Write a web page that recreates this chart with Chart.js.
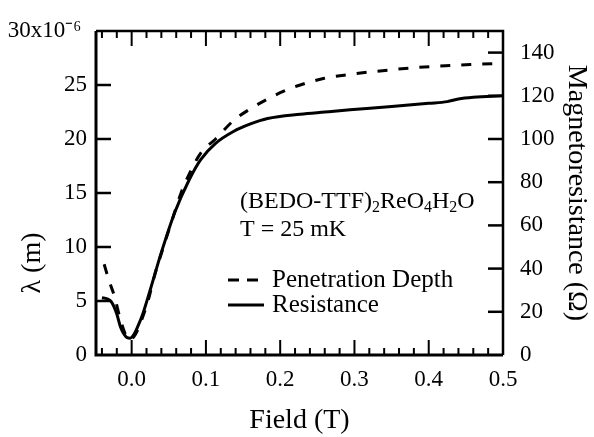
<!DOCTYPE html>
<html><head><meta charset="utf-8">
<script src="https://cdn.jsdelivr.net/npm/chart.js@4/dist/chart.umd.min.js"></script>
<style>html,body{margin:0;padding:0;background:#fff}#wrap{width:594px;height:437px}</style>
</head><body><div id="wrap"><canvas id="c" width="594" height="437"></canvas></div>
<script>
// ---- data ----
const fieldTicks = [0.0, 0.1, 0.2, 0.3, 0.4, 0.5];
const lambdaTicks = [0, 5, 10, 15, 20, 25, 30];
const resTicks = [0, 20, 40, 60, 80, 100, 120, 140];

// Penetration depth (units of 1e-6 m) vs field (T)
const penField = [-0.037, -0.031, -0.023, -0.016, -0.009, -0.004, 0.000, 0.005, 0.012, 0.022, 0.031, 0.040, 0.055, 0.067, 0.080, 0.093, 0.113, 0.137, 0.160, 0.183, 0.204, 0.227, 0.258, 0.290, 0.348, 0.401, 0.459, 0.500];
const penDepth = [8.4, 7.0, 5.4, 3.5, 2.0, 1.4, 1.5, 1.9, 3.0, 5.0, 7.4, 9.4, 12.6, 15.1, 17.1, 18.7, 20.0, 21.7, 22.8, 23.7, 24.4, 25.0, 25.6, 25.95, 26.4, 26.7, 26.9, 27.0];

// Magnetoresistance (Ohm) vs field (T)
const resField = [-0.040, -0.033, -0.027, -0.020, -0.015, -0.010, -0.006, -0.002, 0.003, 0.008, 0.014, 0.024, 0.040, 0.058, 0.078, 0.093, 0.113, 0.137, 0.160, 0.183, 0.227, 0.260, 0.294, 0.350, 0.400, 0.425, 0.440, 0.460, 0.500];
const resistance = [26.5, 26, 24.5, 19, 13, 9.5, 8, 7.8, 9.5, 13, 18, 29, 47.5, 66, 81.5, 90.5, 98, 103.5, 107, 109.5, 111.5, 112.5, 113.5, 115, 116.5, 117.3, 118.5, 119.3, 120];

const SERIF = "'Liberation Serif', 'Times New Roman', serif";
Chart.defaults.color = '#000';
Chart.defaults.font.family = SERIF;

const decor = {
  id: 'decor',
  afterDatasetsDraw(chart) {
    const {ctx, chartArea: a, scales} = chart;
    const x = scales.x, y = scales.y, y1 = scales.y1;
    ctx.save();
    ctx.strokeStyle = '#000';
    ctx.lineCap = 'butt';
    // frame
    ctx.lineWidth = 2.5;
    ctx.beginPath();
    ctx.moveTo(a.left, a.top); ctx.lineTo(a.right, a.top); ctx.lineTo(a.right, a.bottom);
    ctx.stroke();
    ctx.lineWidth = 3;
    ctx.beginPath();
    ctx.moveTo(a.left, a.top); ctx.lineTo(a.left, a.bottom); ctx.lineTo(a.right, a.bottom);
    ctx.stroke();
    // x ticks (top and bottom, inward)
    ctx.lineWidth = 2;
    for (let i = -2; i <= 25; i++) {
      const px = x.getPixelForValue(i * 0.02);
      const len = (i % 5 === 0) ? 15 : 7;
      ctx.beginPath();
      ctx.moveTo(px, a.bottom); ctx.lineTo(px, a.bottom - len);
      ctx.moveTo(px, a.top); ctx.lineTo(px, a.top + len);
      ctx.stroke();
    }
    // left ticks
    ctx.lineWidth = 2.5;
    lambdaTicks.forEach(v => {
      if (v === 0 || v === 30) return;
      const py = y.getPixelForValue(v);
      ctx.beginPath(); ctx.moveTo(a.left, py); ctx.lineTo(a.left + 15, py); ctx.stroke();
    });
    resTicks.forEach(v => {
      if (v === 0) return;
      const py = y1.getPixelForValue(v);
      ctx.beginPath(); ctx.moveTo(a.right, py); ctx.lineTo(a.right - 15, py); ctx.stroke();
    });
    // annotation
    ctx.fillStyle = '#000';
    ctx.textBaseline = 'middle';
    ctx.textAlign = 'left';
    const big = '24px ' + SERIF, small = '16px ' + SERIF;
    let tx = 240; const ty = 202;
    const parts = [['(BEDO-TTF)', 0], ['2', 1], ['ReO', 0], ['4', 1], ['H', 0], ['2', 1], ['O', 0]];
    parts.forEach(([t, sub]) => {
      ctx.font = sub ? small : big;
      ctx.fillText(t, tx, sub ? ty + 6 : ty);
      tx += ctx.measureText(t).width;
    });
    ctx.font = big;
    ctx.fillText('T = 25 mK', 240, 230);
    // legend
    ctx.font = '25px ' + SERIF;
    ctx.fillText('Penetration Depth', 272, 280);
    ctx.fillText('Resistance', 272, 305);
    ctx.lineWidth = 3;
    ctx.setLineDash([11, 8]);
    ctx.beginPath(); ctx.moveTo(228, 280); ctx.lineTo(258, 280); ctx.stroke();
    ctx.setLineDash([]);
    ctx.beginPath(); ctx.moveTo(228, 305); ctx.lineTo(264, 305); ctx.stroke();
    ctx.restore();
  }
};

new Chart(document.getElementById('c'), {
  type: 'line',
  data: {
    datasets: [
      {
        label: 'Penetration Depth',
        data: penField.map((f, i) => ({x: f, y: penDepth[i]})),
        yAxisID: 'y',
        borderColor: '#000', borderWidth: 3, borderDash: [10, 11],
        pointRadius: 0, cubicInterpolationMode: 'monotone', fill: false
      },
      {
        label: 'Resistance',
        data: resField.map((f, i) => ({x: f, y: resistance[i]})),
        yAxisID: 'y1',
        borderColor: '#000', borderWidth: 3,
        pointRadius: 0, cubicInterpolationMode: 'monotone', fill: false
      }
    ]
  },
  options: {
    responsive: false,
    animation: false,
    devicePixelRatio: 1,
    layout: {padding: {top: 31, left: 0, right: 0, bottom: 0}},
    plugins: {legend: {display: false}, tooltip: {enabled: false}},
    scales: {
      x: {
        type: 'linear', position: 'bottom', min: -0.048, max: 0.5,
        grid: {display: false, drawTicks: false}, border: {display: false},
        afterBuildTicks: s => { s.ticks = fieldTicks.map(v => ({value: v})); },
        afterFit: s => { s.height = 82; },
        ticks: {font: {size: 23}, padding: 11, maxRotation: 0, callback: v => Number(v).toFixed(1)},
        title: {display: true, text: 'Field (T)', font: {size: 28}, padding: {top: 0, bottom: 0}}
      },
      y: {
        type: 'linear', position: 'left', min: 0, max: 30,
        grid: {display: false, drawTicks: false}, border: {display: false},
        afterBuildTicks: s => { s.ticks = lambdaTicks.map(v => ({value: v})); },
        afterFit: s => { s.width = 96; },
        ticks: {font: {size: 23}, padding: 9, callback: v => v === 30 ? '30x10\u207B\u2076 ' : String(v)},
        title: {display: true, text: 'λ (m)' + ' '.repeat(20), font: {size: 28}, padding: {top: 16, bottom: 0}}
      },
      y1: {
        type: 'linear', position: 'right', min: 0, max: 150,
        grid: {display: false, drawTicks: false}, border: {display: false},
        afterBuildTicks: s => { s.ticks = resTicks.map(v => ({value: v})); },
        afterFit: s => { s.width = 91; },
        ticks: {font: {size: 23}, padding: 17, callback: v => String(v)},
        title: {display: true, text: 'Magnetoresistance (Ω)', font: {size: 28}, padding: {top: 1, bottom: 0}}
      }
    }
  },
  plugins: [decor]
});
</script>
</body></html>
